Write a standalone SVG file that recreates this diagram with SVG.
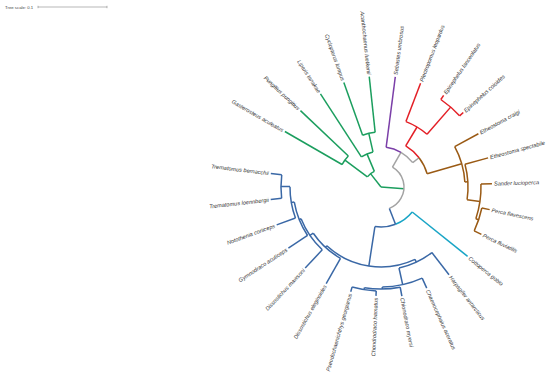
<svg xmlns="http://www.w3.org/2000/svg" width="550" height="380" viewBox="0 0 550 380">
<style>
.br{fill:none;stroke-width:1.5;stroke-linecap:butt}
.g{stroke:#1b9e5e}.p{stroke:#7b3fa8}.r{stroke:#e31f26}.o{stroke:#9a5a14}.y{stroke:#a3a3a3}.u{stroke:#3a68a6}.c{stroke:#19a5c6}
.l{font-family:"Liberation Sans",Arial,sans-serif;font-style:italic;font-size:5.6px;fill:#333;dominant-baseline:central}
.s{font-family:"Liberation Sans",Arial,sans-serif;font-size:4.3px;fill:#444;dominant-baseline:central}
.R{text-anchor:end}
</style>
<rect width="550" height="380" fill="#fff"/>
<g id="scale">
<text class="s" x="5" y="7">Tree scale: 0.1</text>
<path d="M38 7H107M38 5.8V8.2M107 5.8V8.2" stroke="#888" stroke-width="0.6" fill="none"/>
</g>
<g transform="translate(381,187)">
<g id="connectors" class="br">
<g class="g">
<line x1="0" x2="23" transform="rotate(4.34)"/>
<line x1="0" x2="17" transform="rotate(231.9)"/>
<circle r="17" pathLength="360" stroke-dasharray="30.33 720" transform="rotate(216.74)"/>
<line x1="17" x2="45" transform="rotate(216.74)"/>
<line x1="17" x2="36" transform="rotate(247.07)"/>
<circle r="45" pathLength="360" stroke-dasharray="13.48 720" transform="rotate(210)"/>
<circle r="36" pathLength="360" stroke-dasharray="20.22 720" transform="rotate(236.96)"/>
<line x1="36" x2="55" transform="rotate(257.18)"/>
<circle r="55" pathLength="360" stroke-dasharray="13.48 720" transform="rotate(250.44)"/>
<line x1="45" x2="111" transform="rotate(210)"/>
<line x1="45" x2="111" transform="rotate(223.48)"/>
<line x1="36" x2="111" transform="rotate(236.96)"/>
<line x1="55" x2="111" transform="rotate(250.44)"/>
<line x1="55" x2="111" transform="rotate(263.92)"/>
</g>
<g class="y">
<circle r="23" pathLength="360" stroke-dasharray="128.8 720" transform="rotate(299.94)"/>
<line x1="23" x2="40" transform="rotate(299.94)"/>
<circle r="40" pathLength="360" stroke-dasharray="22.53 720" transform="rotate(299.94)"/>
<line x1="40" x2="48" transform="rotate(322.47)"/>
</g>
<g class="p">
<circle r="40" pathLength="360" stroke-dasharray="22.54 720" transform="rotate(277.4)"/>
<line x1="40" x2="111" transform="rotate(277.4)"/>
</g>
<g class="r">
<circle r="48" pathLength="360" stroke-dasharray="21.48 720" transform="rotate(300.99)"/>
<line x1="48" x2="70" transform="rotate(300.99)"/>
<circle r="70" pathLength="360" stroke-dasharray="20.22 720" transform="rotate(290.88)"/>
<line x1="70" x2="111" transform="rotate(290.88)"/>
<line x1="70" x2="106" transform="rotate(311.1)"/>
<circle r="106" pathLength="360" stroke-dasharray="13.48 720" transform="rotate(304.36)"/>
<line x1="106" x2="111" transform="rotate(304.36)"/>
<line x1="106" x2="111" transform="rotate(317.84)"/>
</g>
<g class="o">
<circle r="48" pathLength="360" stroke-dasharray="21.49 720" transform="rotate(322.47)"/>
<line x1="48" x2="84" transform="rotate(343.96)"/>
<circle r="84" pathLength="360" stroke-dasharray="25.28 720" transform="rotate(331.32)"/>
<line x1="84" x2="111" transform="rotate(331.32)"/>
<line x1="84" x2="87" transform="rotate(356.6)"/>
<circle r="87" pathLength="360" stroke-dasharray="23.59 720" transform="rotate(344.8)"/>
<line x1="87" x2="111" transform="rotate(344.8)"/>
<line x1="87" x2="100" transform="rotate(368.39)"/>
<circle r="100" pathLength="360" stroke-dasharray="20.22 720" transform="rotate(358.28)"/>
<line x1="100" x2="111" transform="rotate(358.28)"/>
<line x1="100" x2="103" transform="rotate(378.5)"/>
<circle r="103" pathLength="360" stroke-dasharray="13.48 720" transform="rotate(371.76)"/>
<line x1="103" x2="111" transform="rotate(371.76)"/>
<line x1="103" x2="111" transform="rotate(385.24)"/>
</g>
<g class="c">
<circle r="40" pathLength="360" stroke-dasharray="30.02 720" transform="rotate(398.72)"/>
<line x1="40" x2="111" transform="rotate(398.72)"/>
</g>
<g class="u">
<line x1="23" x2="40" transform="rotate(428.74)"/>
<circle r="40" pathLength="360" stroke-dasharray="30.01 720" transform="rotate(428.74)"/>
<line x1="40" x2="80" transform="rotate(458.75)"/>
<circle r="80" pathLength="360" stroke-dasharray="67.82 720" transform="rotate(424.84)"/>
<line x1="80" x2="83" transform="rotate(424.84)"/>
<circle r="83" pathLength="360" stroke-dasharray="25.28 720" transform="rotate(412.2)"/>
<line x1="83" x2="111" transform="rotate(412.2)"/>
<line x1="83" x2="100" transform="rotate(437.48)"/>
<circle r="100" pathLength="360" stroke-dasharray="23.59 720" transform="rotate(425.68)"/>
<line x1="100" x2="111" transform="rotate(425.68)"/>
<line x1="100" x2="102" transform="rotate(449.27)"/>
<circle r="102" pathLength="360" stroke-dasharray="20.22 720" transform="rotate(439.16)"/>
<line x1="102" x2="111" transform="rotate(439.16)"/>
<line x1="102" x2="104" transform="rotate(459.38)"/>
<circle r="104" pathLength="360" stroke-dasharray="13.48 720" transform="rotate(452.64)"/>
<line x1="104" x2="109" transform="rotate(452.64)"/>
<line x1="104" x2="109" transform="rotate(466.12)"/>
<line x1="80" x2="82" transform="rotate(492.66)"/>
<circle r="82" pathLength="360" stroke-dasharray="26.12 720" transform="rotate(479.6)"/>
<line x1="82" x2="111" transform="rotate(479.6)"/>
<line x1="82" x2="86" transform="rotate(505.72)"/>
<circle r="86" pathLength="360" stroke-dasharray="25.28 720" transform="rotate(493.08)"/>
<line x1="86" x2="111" transform="rotate(493.08)"/>
<line x1="86" x2="88" transform="rotate(518.36)"/>
<circle r="88" pathLength="360" stroke-dasharray="23.59 720" transform="rotate(506.56)"/>
<line x1="88" x2="111" transform="rotate(506.56)"/>
<line x1="88" x2="91" transform="rotate(530.15)"/>
<circle r="91" pathLength="360" stroke-dasharray="20.22 720" transform="rotate(520.04)"/>
<line x1="91" x2="111" transform="rotate(520.04)"/>
<line x1="91" x2="100" transform="rotate(540.26)"/>
<circle r="100" pathLength="360" stroke-dasharray="13.48 720" transform="rotate(533.52)"/>
<line x1="100" x2="111" transform="rotate(533.52)"/>
<line x1="100" x2="111" transform="rotate(547)"/>
</g>
</g>
<g id="leaf-gasterosteus"><text class="l R" transform="rotate(210) translate(113,0) rotate(180)">Gasterosteus aculeatus</text></g>
<g id="leaf-pungitius"><text class="l R" transform="rotate(223.48) translate(113,0) rotate(180)">Pungitius pungitius</text></g>
<g id="leaf-liparis"><text class="l R" transform="rotate(236.96) translate(113,0) rotate(180)">Liparis tanakae</text></g>
<g id="leaf-cyclopterus"><text class="l R" transform="rotate(250.44) translate(113,0) rotate(180)">Cyclopterus lumpus</text></g>
<g id="leaf-acanthochaenus"><text class="l R" transform="rotate(263.92) translate(113,0) rotate(180)">Acanthochaenus luetkenii</text></g>
<g id="leaf-sebastes"><text class="l" transform="rotate(277.4) translate(113,0)">Sebastes umbrosus</text></g>
<g id="leaf-plectropomus"><text class="l" transform="rotate(290.88) translate(113,0)">Plectropomus leopardus</text></g>
<g id="leaf-ep-lanceolatus"><text class="l" transform="rotate(304.36) translate(113,0)">Epinephelus lanceolatus</text></g>
<g id="leaf-ep-coioides"><text class="l" transform="rotate(317.84) translate(113,0)">Epinephelus coioides</text></g>
<g id="leaf-eth-craigi"><text class="l" transform="rotate(331.32) translate(113,0)">Etheostoma craigi</text></g>
<g id="leaf-eth-spectabile"><text class="l" transform="rotate(344.8) translate(113,0)">Etheostoma spectabile</text></g>
<g id="leaf-sander"><text class="l" transform="rotate(358.28) translate(113,0)">Sander lucioperca</text></g>
<g id="leaf-perca-flavescens"><text class="l" transform="rotate(11.76) translate(113,0)">Perca flavescens</text></g>
<g id="leaf-perca-fluviatilis"><text class="l" transform="rotate(25.24) translate(113,0)">Perca fluviatilis</text></g>
<g id="leaf-cottoperca"><text class="l" transform="rotate(38.72) translate(113,0)">Cottoperca gobio</text></g>
<g id="leaf-harpagifer"><text class="l" transform="rotate(52.2) translate(113,0)">Harpagifer antarcticus</text></g>
<g id="leaf-chaenocephalus"><text class="l" transform="rotate(65.68) translate(113,0)">Chaenocephalus aceratus</text></g>
<g id="leaf-chionodraco"><text class="l" transform="rotate(79.16) translate(113,0)">Chionodraco myersi</text></g>
<g id="leaf-chondrodraco"><text class="l R" transform="rotate(92.64) translate(111,0) rotate(180)">Chondrodraco hamatus</text></g>
<g id="leaf-pseudochaenichthys"><text class="l R" transform="rotate(106.12) translate(111,0) rotate(180)">Pseudochaenichthys georgianus</text></g>
<g id="leaf-d-eleginoides"><text class="l R" transform="rotate(119.6) translate(113,0) rotate(180)">Dissostichus eleginoides</text></g>
<g id="leaf-d-mawsoni"><text class="l R" transform="rotate(133.08) translate(113,0) rotate(180)">Dissostichus mawsoni</text></g>
<g id="leaf-gymnodraco"><text class="l R" transform="rotate(146.56) translate(113,0) rotate(180)">Gymnodraco acuticeps</text></g>
<g id="leaf-notothenia"><text class="l R" transform="rotate(160.04) translate(113,0) rotate(180)">Notothenia coriiceps</text></g>
<g id="leaf-t-loennbergii"><text class="l R" transform="rotate(173.52) translate(113,0) rotate(180)">Trematomus loennbergii</text></g>
<g id="leaf-t-bernacchii"><text class="l R" transform="rotate(187) translate(113,0) rotate(180)">Trematomus bernacchii</text></g>
</g>
</svg>
